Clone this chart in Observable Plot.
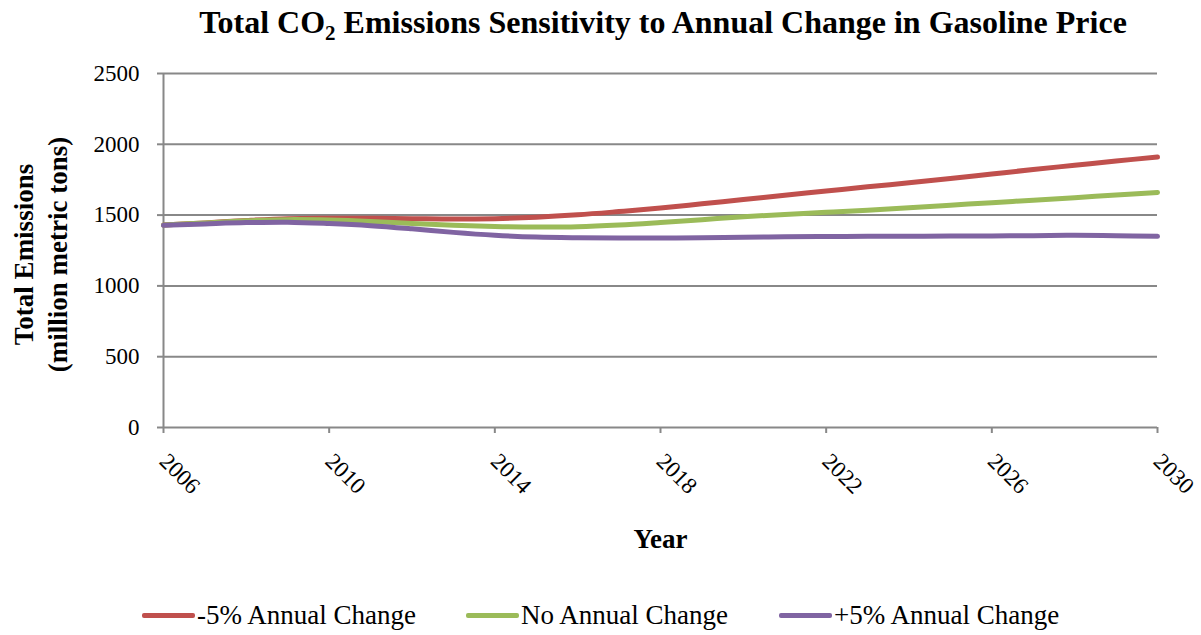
<!DOCTYPE html>
<html>
<head>
<meta charset="utf-8">
<script src="https://cdn.jsdelivr.net/npm/d3@7"></script>
<script src="https://cdn.jsdelivr.net/npm/@observablehq/plot@0.6"></script>
<style>
  body { margin: 0; background: #fff; font-family: "Liberation Serif", "Times New Roman", serif; }
  #wrap { position: relative; width: 1201px; height: 635px; overflow: hidden; }
  #title { position: absolute; left: 163px; width: 1000px; top: 4px; text-align: center; font-weight: bold; font-size: 32px; color: #000; white-space: nowrap; }
  #title sub { font-size: 21px; vertical-align: -7px; line-height: 0; }
  #chart { position: absolute; left: 0; top: 50px; }
  #chart svg text { font-family: "Liberation Serif", "Times New Roman", serif; }
  .leg { position: absolute; top: 600px; display: flex; align-items: center; font-size: 27px; color: #000; white-space: nowrap; }
  .leg .sw { width: 53px; height: 5px; border-radius: 2px; margin-right: 2px; }
</style>
</head>
<body>
<div id="wrap">
  <div id="title">Total CO<sub>2</sub> Emissions Sensitivity to Annual Change in Gasoline Price</div>
  <div id="chart"></div>
  <div id="legend"></div>
</div>
<script>
const years = [2006,2007,2008,2009,2010,2011,2012,2013,2014,2015,2016,2017,2018,2019,2020,2021,2022,2023,2024,2025,2026,2027,2028,2029,2030];
const seriesNames = ["-5% Annual Change", "No Annual Change", "+5% Annual Change"];
const seriesColors = ["#C0504D", "#9BBB59", "#8064A2"];
const minus5 = [1430,1445,1462,1475,1478,1478,1475,1472,1475,1485,1502,1525,1550,1580,1610,1640,1670,1700,1728,1758,1790,1822,1852,1882,1910];
const noChange = [1430,1445,1460,1468,1465,1455,1440,1428,1420,1416,1418,1430,1448,1468,1488,1505,1520,1535,1552,1570,1588,1605,1623,1642,1660];
const plus5 = [1428,1438,1447,1450,1440,1425,1403,1378,1358,1345,1340,1338,1338,1340,1344,1347,1349,1350,1350,1352,1353,1355,1357,1354,1350];
const xTicks = [2006,2010,2014,2018,2022,2026,2030];
const yTicks = [0,500,1000,1500,2000,2500];

const values = [minus5, noChange, plus5];
const data = [];
seriesNames.forEach((s, i) => years.forEach((y, j) => data.push({series: s, year: y, value: values[i][j]})));

const grid = "#888888";
const chart = Plot.plot({
  width: 1201,
  height: 530,
  marginTop: 23,
  marginBottom: 153,
  marginLeft: 163,
  marginRight: 44,
  style: {fontFamily: "'Liberation Serif', 'Times New Roman', serif", fontSize: "22px", color: "#000", background: "#fff"},
  x: {domain: [2006, 2030]},
  y: {domain: [0, 2500]},
  color: {domain: seriesNames, range: seriesColors},
  marks: [
    Plot.ruleY(yTicks, {stroke: grid, strokeWidth: 2}),
    Plot.ruleX([2006], {stroke: grid, strokeWidth: 2}),
    Plot.axisY({ticks: yTicks, tickSize: 6, tickPadding: 18, stroke: grid, strokeWidth: 2, fontSize: 23, label: null, tickFormat: d => String(d)}),
    Plot.axisX({ticks: xTicks, tickSize: 6, tickPadding: 24, tickRotate: 45, stroke: grid, strokeWidth: 2, fontSize: 23, label: null, tickFormat: d => String(d)}),
    Plot.line(data, {x: "year", y: "value", z: "series", stroke: "series", strokeWidth: 5, curve: "catmull-rom"}),
    Plot.text(["Total Emissions\n(million metric tons)"], {frameAnchor: "left", textAnchor: "middle", dx: -124, dy: 4, rotate: -90, fontWeight: "bold", fontSize: 27, lineHeight: 1.25, text: d => d}),
    Plot.text(["Year"], {frameAnchor: "bottom", dy: 120, fontWeight: "bold", fontSize: 27, text: d => d})
  ]
});
document.getElementById("chart").appendChild(chart);

const legendLefts = [142, 466, 779];
const legend = document.getElementById("legend");
seriesNames.forEach((s, i) => {
  const item = document.createElement("div");
  item.className = "leg";
  item.style.left = legendLefts[i] + "px";
  const sw = document.createElement("div");
  sw.className = "sw";
  sw.style.background = seriesColors[i];
  const t = document.createElement("span");
  t.textContent = s;
  item.appendChild(sw);
  item.appendChild(t);
  legend.appendChild(item);
});
</script>
</body>
</html>
